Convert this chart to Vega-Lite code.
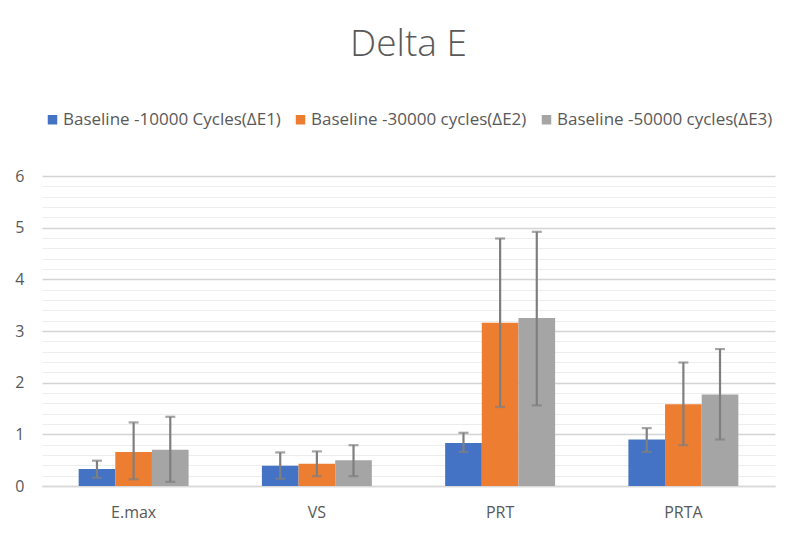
{
  "$schema": "https://vega.github.io/schema/vega-lite/v6.json",
  "autosize": "none",
  "width": 733,
  "height": 310,
  "padding": {"left": 42, "top": 176, "right": 25, "bottom": 54},
  "background": "white",
  "title": {
    "text": "Delta E",
    "fontSize": 37,
    "font": "Open Sans",
    "fontWeight": 300,
    "color": "#595959",
    "anchor": "middle",
    "frame": "group",
    "offset": 47
  },
  "data": {
    "values": [
      {"category": "E.max", "series": "Baseline -10000 Cycles(ΔE1)", "value": 0.33, "lo": 0.16, "hi": 0.49},
      {"category": "E.max", "series": "Baseline -30000 cycles(ΔE2)", "value": 0.66, "lo": 0.13, "hi": 1.23},
      {"category": "E.max", "series": "Baseline -50000 cycles(ΔE3)", "value": 0.70, "lo": 0.08, "hi": 1.34},
      {"category": "VS", "series": "Baseline -10000 Cycles(ΔE1)", "value": 0.39, "lo": 0.14, "hi": 0.65},
      {"category": "VS", "series": "Baseline -30000 cycles(ΔE2)", "value": 0.43, "lo": 0.19, "hi": 0.67},
      {"category": "VS", "series": "Baseline -50000 cycles(ΔE3)", "value": 0.50, "lo": 0.19, "hi": 0.79},
      {"category": "PRT", "series": "Baseline -10000 Cycles(ΔE1)", "value": 0.83, "lo": 0.66, "hi": 1.03},
      {"category": "PRT", "series": "Baseline -30000 cycles(ΔE2)", "value": 3.16, "lo": 1.53, "hi": 4.79},
      {"category": "PRT", "series": "Baseline -50000 cycles(ΔE3)", "value": 3.25, "lo": 1.56, "hi": 4.92},
      {"category": "PRTA", "series": "Baseline -10000 Cycles(ΔE1)", "value": 0.90, "lo": 0.66, "hi": 1.12},
      {"category": "PRTA", "series": "Baseline -30000 cycles(ΔE2)", "value": 1.58, "lo": 0.79, "hi": 2.39},
      {"category": "PRTA", "series": "Baseline -50000 cycles(ΔE3)", "value": 1.77, "lo": 0.90, "hi": 2.65}
    ]
  },
  "encoding": {
    "x": {
      "field": "category",
      "type": "nominal",
      "sort": ["E.max", "VS", "PRT", "PRTA"],
      "scale": {"paddingInner": 0.4, "paddingOuter": 0.2},
      "axis": {
        "title": null,
        "labelAngle": 0,
        "labelFontSize": 16,
        "labelFont": "Open Sans",
        "labelColor": "#595959",
        "labelPadding": 18,
        "ticks": false,
        "domainColor": "#d9d9d9",
        "domainWidth": 1.5,
        "grid": false
      }
    },
    "xOffset": {
      "field": "series",
      "type": "nominal",
      "scale": {"paddingInner": 0, "paddingOuter": 0}
    }
  },
  "layer": [
    {
      "mark": {"type": "bar"},
      "encoding": {
        "y": {
          "field": "value",
          "type": "quantitative",
          "scale": {"domain": [0, 6], "nice": false},
          "axis": {
            "title": null,
            "values": [0, 0.2, 0.4, 0.6, 0.8, 1, 1.2, 1.4, 1.6, 1.8, 2, 2.2, 2.4, 2.6, 2.8, 3, 3.2, 3.4, 3.6, 3.8, 4, 4.2, 4.4, 4.6, 4.8, 5, 5.2, 5.4, 5.6, 5.8, 6],
            "tickCount": 40,
            "labelOverlap": false,
            "labelExpr": "datum.value % 1 === 0 ? '' + datum.value : ''",
            "labelFontSize": 16,
            "labelFont": "Open Sans",
            "labelColor": "#595959",
            "labelPadding": 18,
            "ticks": false,
            "domain": false,
            "gridColor": {"condition": {"test": "datum.value % 1 === 0", "value": "#d4d4d4"}, "value": "#ededed"},
            "gridWidth": {"condition": {"test": "datum.value % 1 === 0", "value": 1.5}, "value": 1}
          }
        },
        "color": {
          "field": "series",
          "type": "nominal",
          "scale": {
            "domain": ["Baseline -10000 Cycles(ΔE1)", "Baseline -30000 cycles(ΔE2)", "Baseline -50000 cycles(ΔE3)"],
            "range": ["#4472C4", "#ED7D31", "#A5A5A5"]
          },
          "legend": {
            "title": null,
            "orient": "none",
            "legendX": 2,
            "legendY": -65,
            "direction": "horizontal",
            "columns": 3,
            "symbolType": "square",
            "symbolSize": 90,
            "symbolStrokeWidth": 0,
            "symbolOpacity": 1,
            "labelFontSize": 17,
            "labelFont": "Open Sans",
            "labelColor": "#595959",
            "labelOffset": 2,
            "columnPadding": 11,
            "labelLimit": 400
          }
        }
      }
    },
    {
      "mark": {"type": "rule", "color": "#7f7f7f", "strokeWidth": 2.2},
      "encoding": {
        "y": {"field": "lo", "type": "quantitative"},
        "y2": {"field": "hi"}
      }
    },
    {
      "mark": {"type": "tick", "color": "#7f7f7f", "thickness": 2.2, "size": 10},
      "encoding": {
        "y": {"field": "lo", "type": "quantitative"}
      }
    },
    {
      "mark": {"type": "tick", "color": "#7f7f7f", "thickness": 2.2, "size": 10},
      "encoding": {
        "y": {"field": "hi", "type": "quantitative"}
      }
    }
  ],
  "config": {
    "view": {"stroke": null}
  }
}
